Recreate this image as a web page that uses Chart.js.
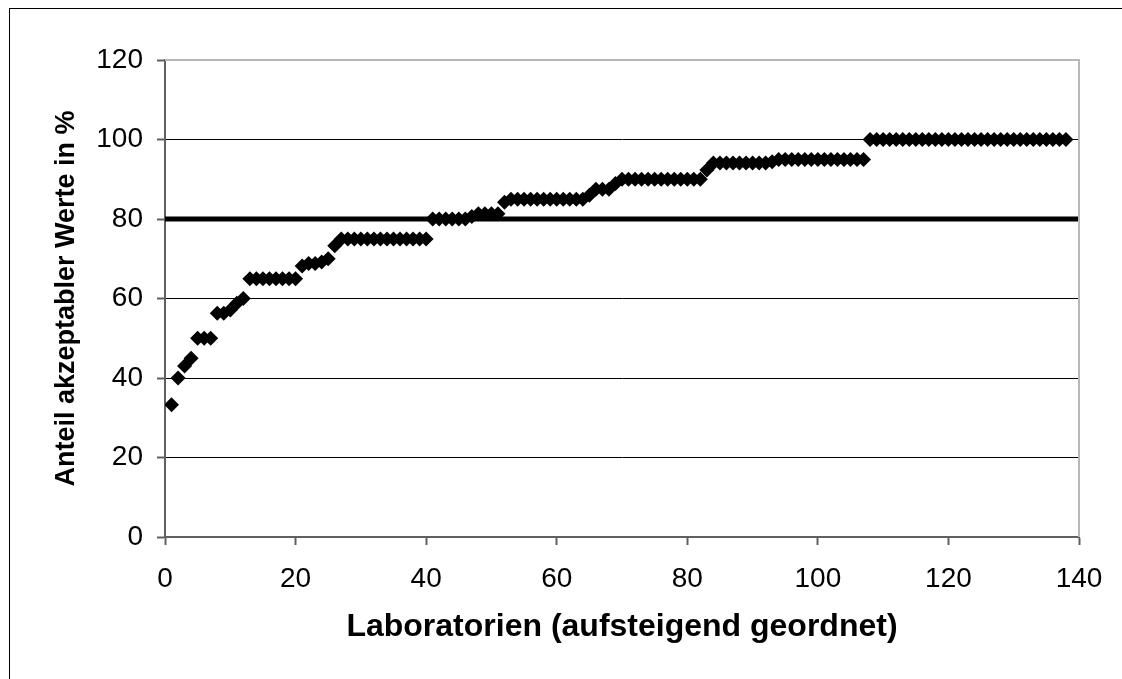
<!DOCTYPE html>
<html>
<head>
<meta charset="utf-8">
<script src="https://cdn.jsdelivr.net/npm/chart.js@4/dist/chart.umd.min.js"></script>
<style>
  html, body { margin: 0; padding: 0; background: #fff; }
  #wrap { position: relative; width: 1122px; height: 679px; overflow: hidden; }
  #frame { position: absolute; left: 9px; top: 8px; width: 1200px; height: 800px;
           border-left: 1px solid #000; border-top: 1px solid #000; }
  canvas { position: absolute; left: 0; top: 0; }
</style>
</head>
<body>
<div id="wrap">
  <div id="frame"></div>
  <canvas id="myChart" width="1122" height="679"></canvas>
</div>
<script>
// Anteil akzeptabler Werte je Labor, aufsteigend sortiert (Labor 1..138)
var anteil = [
  33.3, 40, 43, 45, 50, 50, 50, 56.3, 56.3, 57.1,
  58.8, 60, 65, 65, 65, 65, 65, 65, 65, 65,
  68.2, 68.8, 68.8, 69.2, 70, 73.3, 75, 75, 75, 75,
  75, 75, 75, 75, 75, 75, 75, 75, 75, 75,
  80, 80, 80, 80, 80, 80, 80.6, 81.3, 81.3, 81.3,
  81.3, 84.2, 85, 85, 85, 85, 85, 85, 85, 85,
  85, 85, 85, 85, 86, 87.5, 87.5, 87.5, 88.9, 90,
  90, 90, 90, 90, 90, 90, 90, 90, 90, 90,
  90, 90, 92.3, 94.1, 94.1, 94.1, 94.1, 94.1, 94.1, 94.1,
  94.1, 94.1, 94.4, 95, 95, 95, 95, 95, 95, 95,
  95, 95, 95, 95, 95, 95, 95, 100, 100, 100,
  100, 100, 100, 100, 100, 100, 100, 100, 100, 100,
  100, 100, 100, 100, 100, 100, 100, 100, 100, 100,
  100, 100, 100, 100, 100, 100, 100, 100
];
// 80 %-Grenze
var grenzeX = [0, 140];
var grenzeY = [80, 80];

var punkte = anteil.map(function (v, i) { return { x: i + 1, y: v }; });
var grenze = grenzeX.map(function (x, i) { return { x: x, y: grenzeY[i] }; });

// graue Rahmenlinie oben und rechts
var plotRahmen = {
  id: 'plotRahmen',
  afterDraw: function (chart) {
    var a = chart.chartArea, c = chart.ctx;
    c.save();
    c.strokeStyle = '#b8b8b8';
    c.lineWidth = 2;
    c.beginPath();
    c.moveTo(a.left, a.top);
    c.lineTo(a.right, a.top);
    c.lineTo(a.right, a.bottom);
    c.stroke();
    c.restore();
  }
};

var ctx = document.getElementById('myChart').getContext('2d');

var myChart = new Chart(ctx, {
    type: 'scatter',
    data: {
        datasets: [{
            data: punkte,
            pointStyle: 'rectRot',
            pointRadius: 7.5,
            pointHoverRadius: 7.5,
            backgroundColor: '#000',
            borderColor: '#000',
            borderWidth: 0,
            order: 1
        }, {
            data: grenze,
            showLine: true,
            pointRadius: 0,
            borderColor: '#000',
            borderWidth: 5,
            borderCapStyle: 'round',
            order: 2
        }]
    },
    options: {
        responsive: false,
        animation: false,
        layout: { padding: { left: 0, top: 60, right: 43, bottom: 0 } },
        plugins: {
            legend: { display: false },
            tooltip: { enabled: false }
        },
        scales: {
            x: {
                type: 'linear',
                min: 0,
                max: 140,
                afterFit: function (s) { s.height = 142; },
                ticks: {
                    stepSize: 20,
                    color: '#000',
                    padding: 17,
                    maxRotation: 0,
                    font: { family: 'Liberation Sans, Arial, sans-serif', size: 28 }
                },
                grid: {
                    drawOnChartArea: false,
                    drawTicks: true,
                    tickLength: 8,
                    tickColor: '#606060',
                    tickWidth: 2
                },
                border: { color: '#606060', width: 2 },
                title: {
                    display: true,
                    text: 'Laboratorien (aufsteigend geordnet)',
                    color: '#000',
                    padding: { top: 0, bottom: 33 },
                    font: { family: 'Liberation Sans, Arial, sans-serif', size: 32, weight: 'bold' }
                }
            },
            y: {
                min: 0,
                max: 120,
                afterFit: function (s) { s.width = 165; },
                ticks: {
                    stepSize: 20,
                    color: '#000',
                    padding: 14,
                    font: { family: 'Liberation Sans, Arial, sans-serif', size: 28 }
                },
                grid: {
                    color: '#000',
                    lineWidth: 1,
                    drawTicks: true,
                    tickLength: 8,
                    tickColor: '#606060',
                    tickWidth: 2
                },
                border: { color: '#606060', width: 2 },
                title: {
                    display: true,
                    text: 'Anteil akzeptabler Werte in %',
                    color: '#000',
                    padding: { top: 50, bottom: 0 },
                    font: { family: 'Liberation Sans, Arial, sans-serif', size: 27, weight: 'bold' }
                }
            }
        }
    },
    plugins: [plotRahmen]
});
</script>
</body>
</html>
